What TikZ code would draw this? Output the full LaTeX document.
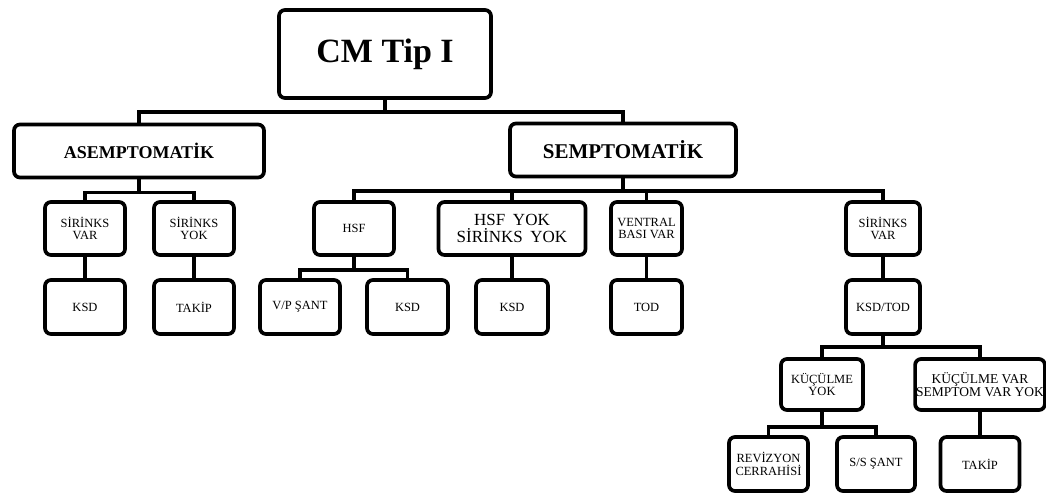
\documentclass[tikz,border=0pt]{standalone}
\usepackage{fontspec}
\setmainfont{Liberation Serif}
\usetikzlibrary{positioning}

\begin{document}
\begin{tikzpicture}[
    x=1pt, y=-1pt,
    box/.style={draw, line width=3.7pt, rounded corners=6pt, align=center, inner sep=1pt},
    small/.style={box, font=\fontsize{12.5}{12.5}\selectfont, minimum height=53pt, minimum width=80pt},
    level/.style={box, font=\fontsize{18}{20}\selectfont\bfseries, minimum height=53pt},
    link/.style={line width=3.7pt}
]
\useasboundingbox (0,0) rectangle (1046,496);
\node[box, font=\fontsize{34}{36}\selectfont\bfseries, minimum width=212pt, minimum height=88pt] (root) at (385,54) {CM Tip I};
\node[level, minimum width=250pt] (asym) at (139,151) {ASEMPTOMATİK};
\node[level, minimum width=226pt, font=\fontsize{21}{23}\selectfont\bfseries] (sym) at (623,150) {SEMPTOMATİK};
% second row
\node[small] (sv1) at (85,228.5) {SİRİNKS\\VAR};
\node[small] (sy1) at (194,228.5) {SİRİNKS\\YOK};
\node[small] (hsf) at (354,228.5) {HSF};
\node[small, minimum width=147pt, font=\fontsize{17}{17}\selectfont] (hsfyok) at (512,228.5) {HSF\hspace{.45em}YOK\\SİRİNKS\hspace{.45em}YOK};
\node[small, minimum width=71pt] (ventral) at (646.5,228.5) {VENTRAL\\BASI VAR};
\node[small, minimum width=74pt] (sv2) at (883,228.5) {SİRİNKS\\VAR};
% third row
\node[small, minimum height=54pt] (ksd1) at (85,307) {KSD};
\node[small, minimum height=54pt] (takip1) at (194,307) {TAKİP};
\node[small, minimum height=54pt] (vp) at (300,307) {V/P ŞANT};
\node[small, minimum height=54pt, minimum width=81pt] (ksd2) at (407.5,307) {KSD};
\node[small, minimum height=54pt, minimum width=72pt] (ksd3) at (512,307) {KSD};
\node[small, minimum height=54pt, minimum width=71pt] (tod) at (646.5,307) {TOD};
\node[small, minimum height=54pt, minimum width=74pt] (ksdtod) at (883,307) {KSD/TOD};
% lower rows
\node[small, minimum height=51pt, minimum width=82pt] (ky) at (822,384.5) {KÜÇÜLME\\YOK};
\node[small, minimum height=51pt, minimum width=124pt, font=\fontsize{13.5}{12.5}\selectfont] (kv) at (980,384.5) {KÜÇÜLME VAR\\SEMPTOM VAR YOK};
\node[small, minimum height=54pt, minimum width=79pt] (rev) at (768.5,464) {REVİZYON\\CERRAHİSİ};
\node[small, minimum height=54pt, minimum width=78pt] (ss) at (876,464) {S/S ŞANT};
\node[small, minimum height=54pt, minimum width=79pt] (takip2) at (980,464) {TAKİP};
% connectors
\foreach \c in {asym,sym} \draw[link] (root.south) -- ++(0,12) -| (\c.north);
\foreach \c in {sv1,sy1} \draw[link] (asym.south) -- ++(0,13) -| (\c.north);
\foreach \c in {hsf,hsfyok,ventral,sv2} \draw[link] (sym.south) -- ++(0,12.5) -| (\c.north);
\foreach \c in {vp,ksd2} \draw[link] (hsf.south) -- ++(0,13) -| (\c.north);
\foreach \c in {ky,kv} \draw[link] (ksdtod.south) -- ++(0,11) -| (\c.north);
\foreach \c in {rev,ss} \draw[link] (ky.south) -- ++(0,15) -| (\c.north);
\foreach \a/\b in {sv1/ksd1, sy1/takip1, hsfyok/ksd3, ventral/tod, sv2/ksdtod, kv/takip2}
    \draw[link] (\a) -- (\b);
\end{tikzpicture}
\end{document}
